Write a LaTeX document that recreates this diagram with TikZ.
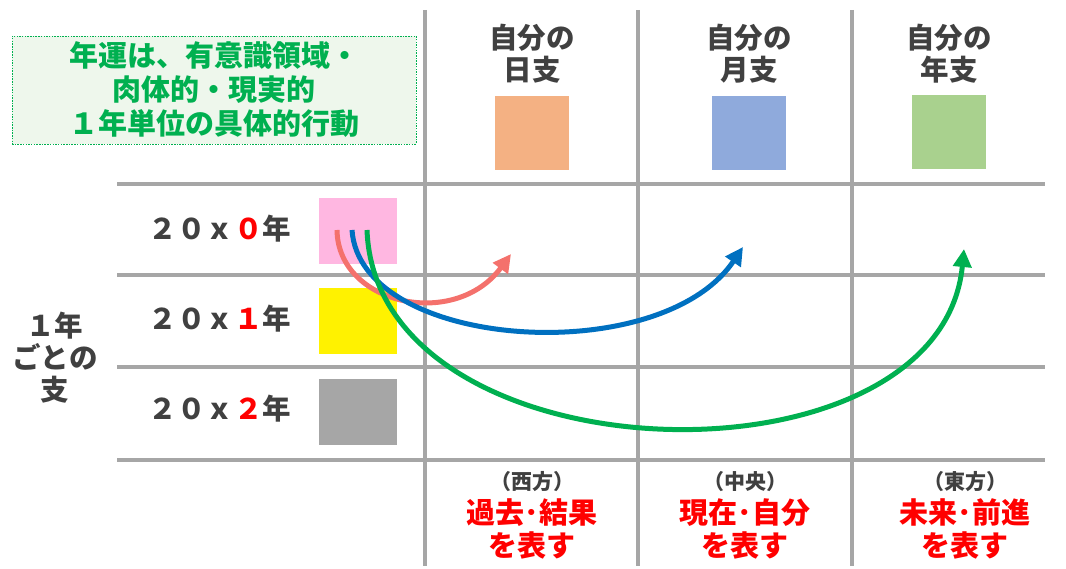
\documentclass[tikz,border=0pt]{standalone}
\usepackage{fontspec}
\setmainfont{Noto Sans CJK JP}
\usetikzlibrary{arrows.meta}

\definecolor{gridgray}{HTML}{A6A6A6}
\definecolor{textgray}{HTML}{404040}
\definecolor{kanred}{HTML}{FF0000}
\definecolor{kangreen}{HTML}{00B050}
\definecolor{notefill}{HTML}{EEF7EC}
\definecolor{dayorange}{HTML}{F4B183}
\definecolor{monthblue}{HTML}{8FAADC}
\definecolor{yeargreen}{HTML}{A9D18E}
\definecolor{zeropink}{HTML}{FFB7E1}
\definecolor{arrowred}{HTML}{F4716C}
\definecolor{arrowblue}{HTML}{0070C0}

\tikzset{
  gridline/.style={draw=gridgray, line width=3.5pt},
  bigtext/.style={font=\bfseries\fontsize{28.5}{32}\selectfont, text=textgray, align=center, inner sep=0pt},
  dirtext/.style={font=\bfseries\fontsize{21}{22}\selectfont, text=textgray, align=center, inner sep=0pt},
  meantext/.style={font=\bfseries\fontsize{29}{33}\selectfont, text=kanred, align=center, inner sep=0pt},
  swatch/.style={draw=none, minimum width=74pt, minimum height=74pt, inner sep=0pt},
  yearbox/.style={draw=none, minimum width=78pt, minimum height=66pt, inner sep=0pt},
  flow/.style={line width=5pt, -{Triangle[length=18pt, width=18pt]}},
}

\begin{document}
\begin{tikzpicture}[x=1pt, y=-1pt]

  \useasboundingbox (0,0) rectangle (1066,569);

  % grid
  \foreach \x in {425,638,852}
    \draw[gridline] (\x,10) -- (\x,566);
  \foreach \y in {184,275,367,460}
    \draw[gridline] (117,\y) -- (1045,\y);

  % note
  \node[draw=kangreen, dashed, dash pattern=on 1.5pt off 1.2pt, line width=0.7pt,
        fill=notefill, minimum width=404pt, minimum height=108pt, inner sep=0pt,
        font=\bfseries\fontsize{29}{34}\selectfont, text=kangreen, align=center]
        (note) at (214,90) {年運は、有意識領域・\\肉体的・現実的\\１年単位の具体的行動};

  % column heads
  \node[bigtext] (dayhead)   at (532,54) {自分の\\日支};
  \node[bigtext] (monthhead) at (749,54) {自分の\\月支};
  \node[bigtext] (yearhead)  at (949,54) {自分の\\年支};
  \node[swatch, fill=dayorange] (day)   at (532,133) {};
  \node[swatch, fill=monthblue] (month) at (749,133) {};
  \node[swatch, fill=yeargreen] (year)  at (949,132) {};

  % rows
  \node[bigtext] (row0) at (220,229) {２０ｘ\textcolor{kanred}{０}年};
  \node[bigtext] (row1) at (220,319) {２０ｘ\textcolor{kanred}{１}年};
  \node[bigtext] (row2) at (220,409) {２０ｘ\textcolor{kanred}{２}年};
  \node[yearbox, fill=zeropink] (y0) at (358,231) {};
  \node[yearbox, fill=yellow]   (y1) at (358,321) {};
  \node[yearbox, fill=gridgray] (y2) at (358,412) {};
  \node[bigtext] (rowhead) at (55,358) {１年\\ごとの\\支};

  % meanings
  \node[dirtext]  (west)     at (532,482) {（西方）};
  \node[meantext] (westmean) at (532,529) {過去･結果\\を表す};
  \node[dirtext]  (mid)      at (745,482) {（中央）};
  \node[meantext] (midmean)  at (745,529) {現在･自分\\を表す};
  \node[dirtext]  (east)     at (965,482) {（東方）};
  \node[meantext] (eastmean) at (965,529) {未来･前進\\を表す};

  % flows
  \coordinate (s0) at (337,230);
  \coordinate (s1) at (352,230);
  \coordinate (s2) at (367,230);
  \coordinate (t0) at (511,254);
  \coordinate (t1) at (743,247);
  \coordinate (t2) at (964,249);
  \draw[flow, arrowred]  (s0) .. controls (338,305) and (455,330) .. (t0);
  \draw[flow, arrowblue] (s1) .. controls (360,350) and (660,370) .. (t1);
  \draw[flow, kangreen]  (s2) .. controls (376,482) and (940,497) .. (t2);

\end{tikzpicture}
\end{document}
